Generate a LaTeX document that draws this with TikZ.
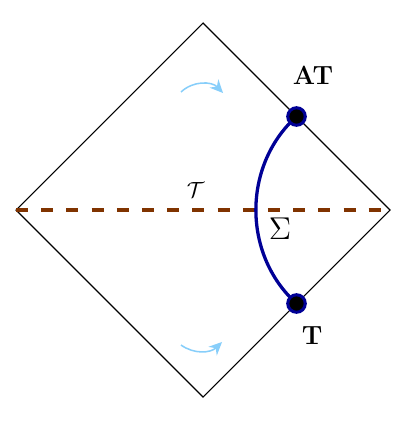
\documentclass[tikz,border=0pt]{standalone}
\usepackage{amsmath}
\usepackage{amssymb}
\usepackage{tikz}
\usetikzlibrary{arrows.meta, calc, positioning}
\definecolor{slicebrown}{RGB}{128,51,0}
\definecolor{surfblue}{RGB}{0,0,150}
\definecolor{flowblue}{RGB}{135,206,250}

\begin{document}
\begin{tikzpicture}[dot/.style={circle,draw=surfblue,fill=black,line width=1.4pt,minimum size=8pt,inner sep=0pt},
flow/.style={flowblue,line width=0.7pt,-{Stealth[length=6pt,width=5.5pt]}},
lbl/.style={font=\large\bfseries}]
 \useasboundingbox (-3.257,-3.449) rectangle (3.401,3.369);
 % corners of the diamond
 \coordinate (N) at (0,3);
 \coordinate (E) at (3,0);
 \coordinate (S) at (0,-3);
 \coordinate (W) at (-3,0);
 \draw[line width=0.5pt] (N) -- (E) -- (S) -- (W) -- cycle;
 \draw[slicebrown,line width=1.4pt,dash pattern=on 5.5pt off 6pt] (W) -- (E);
 % surface between the two points
 \coordinate (pAT) at (1.5,1.5);
 \coordinate (pT) at (1.5,-1.5);
 \draw[surfblue,line width=1.5pt] (pAT) to[bend right=48] (pT);
 \node[dot] (at) at (pAT) {};
 \node[dot] (t) at (pT) {};
 \node[lbl] (atl) at (1.765,2.166) {AT};
 \node[lbl] (tl) at (1.749,-2.02) {T};
 \node (slice) at (-0.12,0.313) {$\mathcal{T}$};
 \node[font=\Large] (sig) at (1.235,-0.305) {$\Sigma$};
 % flow arrows
 \coordinate (fa0) at (-0.353,1.893);
 \coordinate (fa1) at (0.321,1.877);
 \coordinate (fb0) at (-0.353,-2.166);
 \coordinate (fb1) at (0.305,-2.117);
 \draw[flow] (fa0) to[bend left=45] (fa1);
 \draw[flow] (fb0) to[bend right=40] (fb1);
\end{tikzpicture}
\end{document}
